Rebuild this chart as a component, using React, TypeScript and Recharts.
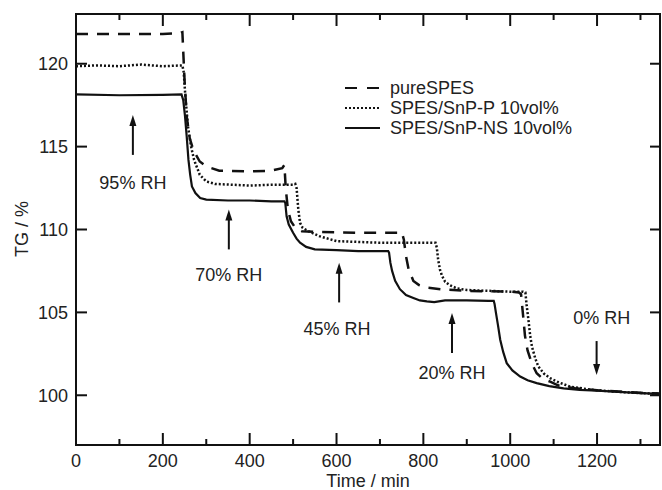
import { LineChart, Line, XAxis, YAxis, ReferenceLine, ReferenceDot, ReferenceArea, Legend } from 'recharts'

// pureSPES (dashed)
const pureTimes = [0, 100, 200, 240, 245, 250, 255, 262, 270, 285, 300, 330, 400, 450, 475, 480, 483, 488, 495, 505, 520, 560, 650, 740, 750, 755, 760, 766, 777, 790, 808, 840, 900, 1000, 1020, 1025, 1029, 1034, 1040, 1050, 1061, 1075, 1092, 1110, 1123, 1150, 1200, 1250, 1300, 1345]
const pureValues = [121.8, 121.8, 121.8, 121.85, 121.9, 119, 116.8, 115.5, 114.8, 114.1, 113.8, 113.55, 113.5, 113.55, 113.7, 113.9, 112.5, 111.2, 110.5, 110.1, 109.9, 109.85, 109.8, 109.8, 109.85, 109.4, 108.4, 107.6, 106.9, 106.65, 106.5, 106.4, 106.3, 106.25, 106.2, 106.1, 105.0, 103.6, 102.7, 101.9, 101.33, 101.0, 100.82, 100.6, 100.52, 100.42, 100.3, 100.22, 100.15, 100.1]

// SPES/SnP-P 10vol% (dotted)
const pTimes = [0, 50, 100, 150, 200, 245, 248, 252, 258, 265, 272, 285, 300, 320, 400, 450, 500, 505, 508, 512, 516, 522, 535, 560, 600, 650, 700, 800, 828, 831, 834, 838, 843, 850, 860, 877, 900, 950, 1000, 1030, 1035, 1038, 1042, 1046, 1050, 1058, 1065, 1078, 1092, 1110, 1138, 1170, 1200, 1250, 1300, 1345]
const pValues = [119.85, 119.9, 119.85, 119.95, 119.85, 119.9, 119.5, 118.0, 116.2, 115.0, 114.2, 113.3, 112.9, 112.75, 112.65, 112.7, 112.7, 112.75, 112.5, 111.2, 110.4, 110.1, 109.9, 109.6, 109.3, 109.25, 109.2, 109.2, 109.2, 108.9, 108.2, 107.6, 107.2, 106.85, 106.65, 106.45, 106.35, 106.3, 106.25, 106.25, 106.2, 105.4, 104.55, 103.6, 102.94, 102.2, 101.73, 101.3, 101.03, 100.8, 100.52, 100.4, 100.3, 100.2, 100.13, 100.08]

// SPES/SnP-NS 10vol% (solid)
const nsTimes = [0, 100, 200, 243, 247, 251, 255, 259, 263, 267, 275, 286, 300, 350, 400, 450, 480, 482, 485, 490, 500, 508, 516, 530, 550, 600, 650, 700, 719, 721, 724, 728, 735, 746, 760, 777, 792, 808, 825, 850, 900, 950, 962, 964, 967, 972, 977, 984, 992, 1005, 1023, 1040, 1061, 1090, 1123, 1160, 1200, 1250, 1300, 1345]
const nsValues = [118.15, 118.1, 118.12, 118.15, 117.8, 116.85, 115.6, 114.2, 113.3, 112.6, 112.2, 111.9, 111.8, 111.75, 111.75, 111.7, 111.7, 111.6, 110.8, 110.3, 109.8, 109.45, 109.2, 108.95, 108.8, 108.75, 108.7, 108.7, 108.7, 108.6, 108.0, 107.5, 106.9, 106.4, 106.05, 105.87, 105.72, 105.66, 105.62, 105.72, 105.72, 105.7, 105.7, 105.5, 105.0, 104.2, 103.35, 102.6, 101.94, 101.5, 101.13, 100.9, 100.73, 100.55, 100.42, 100.33, 100.28, 100.2, 100.13, 100.08]

const seriesNames = ['pureSPES', 'SPES/SnP-P 10vol%', 'SPES/SnP-NS 10vol%']

const xDomain = [0, 1345]
const yDomain = [97, 123]
const xTicks = [0, 100, 200, 300, 400, 500, 600, 700, 800, 900, 1000, 1100, 1200, 1300]
const yTicks = [100, 105, 110, 115, 120]

// RH annotations
const rhLabels = ['95% RH', '70% RH', '45% RH', '20% RH', '0% RH']
const arrowTimes = [131, 352, 606, 866, 1199]
const arrowTail = [114.5, 108.8, 105.6, 102.55, 103.27]
const arrowTip = [116.9, 111.2, 108.0, 104.96, 101.22]
const labelTimes = [131, 352, 601, 866, 1211]
const labelValues = [112.8, 107.25, 104.05, 101.34, 104.66]

const toPoints = (ts: number[], vs: number[]) => ts.map((t, i) => ({ t, v: vs[i] }))

const pureData = toPoints(pureTimes, pureValues)
const pData = toPoints(pTimes, pValues)
const nsData = toPoints(nsTimes, nsValues)

const INK = '#111'
const TEXT = '#222'

const BottomLabel = (props: any) => {
  const { x, y, payload } = props
  if (payload.value % 200 !== 0) return <g />
  return (
    <text x={x} y={y + 22} textAnchor="middle" fontSize={18} fill={TEXT}>
      {payload.value}
    </text>
  )
}

const LeftLabel = (props: any) => {
  const { x, y, payload } = props
  return (
    <text x={x - 8} y={y + 6.5} textAnchor="end" fontSize={18} fill={TEXT}>
      {payload.value}
    </text>
  )
}

const XTickMark = (props: any) => {
  const { x1, y1, y2, major } = props
  const top = Math.min(y1, y2)
  const bottom = Math.max(y1, y2)
  const len = major ? 12 : 6
  return (
    <g>
      <line x1={x1} x2={x1} y1={bottom} y2={bottom - len} stroke={INK} strokeWidth={2} />
      <line x1={x1} x2={x1} y1={top} y2={top + len} stroke={INK} strokeWidth={2} />
    </g>
  )
}

const YTickMark = (props: any) => {
  const { x1, x2, y1 } = props
  const left = Math.min(x1, x2)
  const right = Math.max(x1, x2)
  return (
    <g>
      <line x1={left} x2={left + 11} y1={y1} y2={y1} stroke={INK} strokeWidth={2} />
      <line x1={right} x2={right - 10} y1={y1} y2={y1} stroke={INK} strokeWidth={2} />
    </g>
  )
}

const Arrow = (props: any) => {
  const { x1, y1, x2, y2 } = props
  const dir = y2 > y1 ? 1 : -1
  return (
    <g>
      <line x1={x1} x2={x2} y1={y1} y2={y2 - dir * 8} stroke={INK} strokeWidth={2} />
      <polygon
        points={`${x2},${y2} ${x2 - 3.5},${y2 - dir * 11} ${x2 + 3.5},${y2 - dir * 11}`}
        fill={INK}
      />
    </g>
  )
}

const lineStyles = [
  { dash: '12 9', width: 2.5 },
  { dash: '2 2', width: 2.5 },
  { dash: undefined, width: 2.2 },
]

// legend samples drawn with css gradients, no nested svg
const sampleBg = [
  `repeating-linear-gradient(to right, ${INK} 0 12px, transparent 12px 22px)`,
  `repeating-linear-gradient(to right, ${INK} 0 2px, transparent 2px 4px)`,
  INK,
]

const LegendBox = () => (
  <div style={{ fontSize: 18, color: TEXT }}>
    {seriesNames.map((name, i) => (
      <div key={name} style={{ display: 'flex', alignItems: 'center', height: 20 }}>
        <div style={{ width: 35, height: i === 2 ? 2 : 2.5, background: sampleBg[i], marginRight: 10 }} />
        <span style={{ lineHeight: '20px' }}>{name}</span>
      </div>
    ))}
  </div>
)

export default function App() {
  return (
    <div style={{ position: 'absolute', left: 0, top: 0, fontFamily: '"Liberation Sans", Arial, sans-serif' }}>
      <LineChart width={662} height={490} margin={{ top: 14, right: 2, left: 0, bottom: 0 }}>
        <XAxis
          dataKey="t"
          type="number"
          domain={xDomain}
          allowDataOverflow
          ticks={xTicks}
          interval={0}
          height={45}
          tickSize={0}
          tickMargin={0}
          tickLine={false}
          axisLine={false}
          tick={<BottomLabel />}
          label={{ value: 'Time / min', position: 'insideBottom', offset: 3, fontSize: 18, fill: TEXT }}
        />
        <YAxis
          type="number"
          domain={yDomain}
          allowDataOverflow
          ticks={yTicks}
          interval={0}
          width={76}
          tickSize={0}
          tickMargin={0}
          tickLine={false}
          axisLine={false}
          tick={<LeftLabel />}
          label={{
            content: () => (
              <text transform="translate(22,229) rotate(-90)" textAnchor="middle" dominantBaseline="central" fontSize={18} fill={TEXT}>
                TG / %
              </text>
            ),
          }}
        />
        <ReferenceArea x1={xDomain[0]} x2={xDomain[1]} y1={yDomain[0]} y2={yDomain[1]} fill="none" fillOpacity={0} stroke={INK} strokeWidth={2} />
        {xTicks.map((t) => (
          <ReferenceLine key={`xt-${t}`} x={t} shape={(p: any) => <XTickMark {...p} major={t % 200 === 0} />} />
        ))}
        {yTicks.map((v) => (
          <ReferenceLine key={`yt-${v}`} y={v} shape={(p: any) => <YTickMark {...p} />} />
        ))}
        <Legend
          layout="vertical"
          align="center"
          verticalAlign="middle"
          content={<LegendBox />}
          wrapperStyle={{ position: 'absolute', left: 345, top: 78, width: 280 }}
        />
        <Line data={pureData} dataKey="v" type="linear" stroke={INK} strokeWidth={lineStyles[0].width} strokeDasharray={lineStyles[0].dash} dot={false} isAnimationActive={false} />
        <Line data={pData} dataKey="v" type="linear" stroke={INK} strokeWidth={lineStyles[1].width} strokeDasharray={lineStyles[1].dash} dot={false} isAnimationActive={false} />
        <Line data={nsData} dataKey="v" type="linear" stroke={INK} strokeWidth={lineStyles[2].width} dot={false} isAnimationActive={false} />
        {arrowTimes.map((t, i) => (
          <ReferenceLine
            key={`arrow-${i}`}
            segment={[{ x: t, y: arrowTail[i] }, { x: t, y: arrowTip[i] }]}
            shape={(p: any) => <Arrow {...p} />}
          />
        ))}
        {labelTimes.map((t, i) => (
          <ReferenceDot
            key={`lbl-${i}`}
            x={t}
            y={labelValues[i]}
            r={0}
            fill="none"
            stroke="none"
            label={{ value: rhLabels[i], position: 'center', fontSize: 18, fill: TEXT }}
          />
        ))}
      </LineChart>
    </div>
  )
}
